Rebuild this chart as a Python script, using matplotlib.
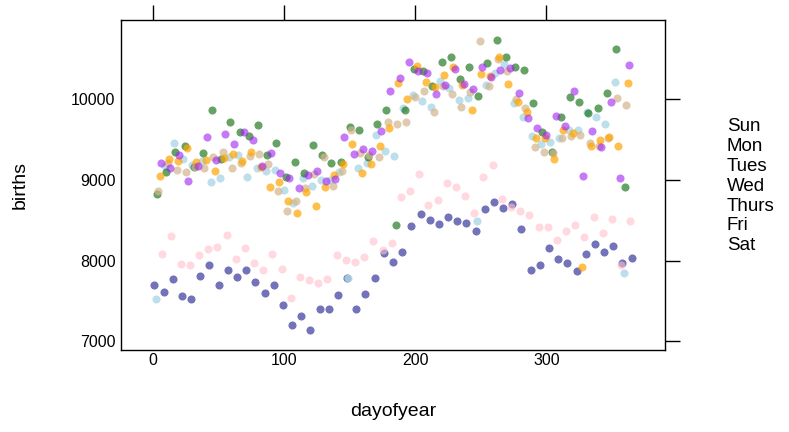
import numpy as np
import matplotlib.pyplot as plt

plt.rcParams['font.family'] = ['Liberation Sans', 'DejaVu Sans']

# births per day in 1978, one list per weekday
sun = [7701, 7611, 7771, 7560, 7527, 7804, 7950, 7695, 7888, 7800,
       7880, 7740, 7600, 7700, 7450, 7200, 7310, 7145, 7395, 7395,
       7575, 7790, 7405, 7590, 7780, 8095, 7985, 8110, 8425, 8570,
       8495, 8455, 8540, 8485, 8460, 8360, 8640, 8720, 8655, 8700,
       8385, 7880, 7940, 8160, 8015, 7975, 7875, 8075, 8200, 8100,
       8175, 7975, 8035]
mon = [7527, 9172, 9458, 9252, 9184, 9225, 8966, 9021, 9280, 9309,
       9033, 9140, 9104, 9124, 8877, 8712, 9024, 8918, 8996, 9000,
       9099, 7780, 9140, 9206, 9547, 9358, 9292, 9889, 10045, 9971,
       9897, 10214, 10132, 9979, 10004, 8490, 10169, 10317, 10428, 9947,
       9774, 9535, 9436, 9465, 9514, 9617, 9617, 9836, 9774, 9691,
       10206, 7850]
tue = [8825, 9089, 9339, 9416, 9152, 9328, 9859, 9252, 9712, 9586,
       9535, 9672, 9300, 9449, 9033, 9214, 9078, 9432, 9309, 9206,
       9222, 9646, 9613, 9276, 9683, 9864, 8444, 9864, 10366, 10346,
       10152, 10449, 10515, 10239, 10395, 10033, 10436, 10721, 10510, 10387,
       10358, 9947, 9584, 9342, 9774, 10021, 9959, 9823, 9885, 10070,
       10615, 8910]
wed = [8859, 9210, 9120, 9090, 9159, 9139, 9285, 9335, 9145, 9200,
       9288, 9313, 9198, 8856, 8613, 8740, 8900, 9066, 9280, 8925,
       9100, 9613, 9330, 9300, 9276, 9708, 9683, 9716, 10025, 10099,
       9831, 10152, 10062, 9901, 10079, 10712, 10161, 10490, 10346, 10000,
       9885, 9399, 9337, 9330, 9514, 9543, 9556, 9453, 9420, 9518,
       10004, 9918]
thu = [9043, 9259, 9226, 9387, 9218, 9247, 9103, 9268, 9310, 9227,
       9337, 9160, 8914, 8976, 8740, 8588, 8846, 8679, 8914, 9054,
       9194, 9444, 9083, 9194, 9411, 9638, 10190, 9991, 10399, 10202,
       10140, 10293, 10391, 10165, 9861, 10300, 10276, 10510, 10185, 9955,
       9831, 9510, 9510, 9256, 9617, 9576, 7920, 9411, 9490, 9527,
       9410, 10190]
fri = [9208, 9138, 9305, 8983, 9167, 9527, 9238, 9560, 9440, 9593,
       9490, 9165, 9330, 9087, 9017, 8900, 9058, 9111, 8984, 9004,
       9527, 9313, 9374, 9358, 9605, 10090, 10251, 10449, 10342, 10317,
       10062, 10173, 10366, 10185, 10123, 10387, 10268, 10358, 10375, 10066,
       9762, 9634, 9547, 9782, 9658, 10095, 9049, 9599, 9405, 9959,
       9017, 10412]
sat = [8084, 8299, 7954, 7946, 8065, 8144, 8167, 8320, 8020, 8150,
       7975, 7880, 8080, 7895, 7535, 7795, 7755, 7725, 7775, 8070,
       8010, 7980, 8045, 8245, 8130, 8220, 8780, 8865, 9070, 8687,
       8750, 8963, 8912, 8792, 8593, 9030, 9178, 8760, 8658, 8613,
       8560, 8420, 8420, 8255, 8360, 8440, 8285, 8540, 8345, 8515,
       7950, 8485]

wdays = ['Sun', 'Mon', 'Tues', 'Wed', 'Thurs', 'Fri', 'Sat']
series = [sun, mon, tue, wed, thu, fri, sat]
first_day = [1, 2, 3, 4, 5, 6, 7]   # 1 Jan 1978 was a Sunday
colors = ['#000080', '#ADD8E6', '#006400', '#D2B48C', '#FFA500', '#A020F0', '#FFC0CB']
alphas = [0.55, 0.8, 0.6, 0.7, 0.7, 0.6, 0.6]

fig = plt.figure(figsize=(7.89, 4.32), dpi=100)
ax = fig.add_axes([121 / 789, 82 / 432, 544 / 789, 330 / 432])

for d0, vals, col, a in zip(first_day, series, colors, alphas):
    days = np.arange(d0, d0 + 7 * len(vals), 7)
    ax.scatter(days, vals, s=34, color=col, alpha=a, linewidths=0)

# lattice style padding of 7% on both axes
allv = np.concatenate([np.array(v) for v in series])
xr = 365 - 1
yr = allv.max() - allv.min()
ax.set_xlim(1 - 0.07 * xr, 365 + 0.07 * xr)
ax.set_ylim(allv.min() - 0.07 * yr, allv.max() + 0.07 * yr)

ax.set_xticks([0, 100, 200, 300])
ax.set_yticks([7000, 8000, 9000, 10000])
ax.tick_params(direction='out', width=1, top=True, right=True, labelsize=11.5)
ax.tick_params(axis='x', which='major', bottom=True, length=0, pad=2)
ax.tick_params(axis='y', which='major', left=True, length=0, pad=4)
for t in ax.xaxis.get_major_ticks():
    t.tick2line.set_markersize(11)
for t in ax.yaxis.get_major_ticks():
    t.tick2line.set_markersize(11)
for sp in ax.spines.values():
    sp.set_linewidth(1)

ax.set_xlabel('dayofyear', fontsize=14)
ax.set_ylabel('births', fontsize=14)
ax.xaxis.set_label_coords(0.5, (350 - 403) / 330)
ax.yaxis.set_label_coords((29 - 121) / 544, 0.5)

for i, w in enumerate(wdays):
    fig.text(727 / 789, 1 - (127 + i * 19.8) / 432, w, fontsize=13.5,
             va='center', ha='left')

fig.savefig('out.png', dpi=100)
